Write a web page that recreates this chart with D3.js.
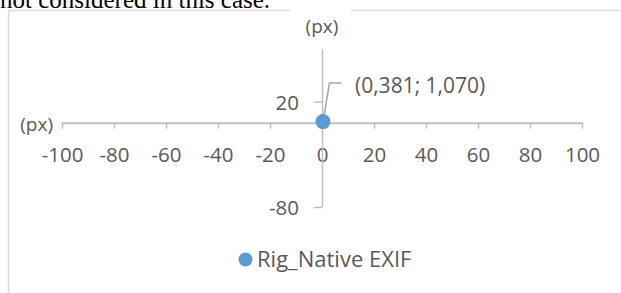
<!DOCTYPE html>
<html>
<head>
<meta charset="utf-8">
<script src="https://cdn.jsdelivr.net/npm/d3@7"></script>
<style>
  html, body { margin: 0; padding: 0; background: #fff; }
  svg { display: block; }
</style>
</head>
<body>
<svg id="chart" width="621" height="293"></svg>
<script>
// ---- data ----
const seriesName = "Rig_Native EXIF";
const xValues = [0.381];
const yValues = [1.070];
const pointLabels = ["(0,381; 1,070)"];
const xTicks = [-100, -80, -60, -40, -20, 0, 20, 40, 60, 80, 100];
const yTicks = [-80, 20];
const xDomain = [-100, 100];
const yDomain = [-80, 70];
const xTitle = "(px)";
const yTitle = "(px)";
const topText = "not considered in this case.";

// ---- drawing ----
const svg = d3.select("#chart");
const font = "'Open Sans', 'Noto Sans', sans-serif";
const textColor = "#595959";
const axisColor = "#BFBFBF";

// page text above the chart frame
svg.append("text")
  .attr("x", 0).attr("y", 8)
  .attr("font-family", "'Liberation Serif', 'Times New Roman', serif")
  .attr("font-size", 25)
  .attr("fill", "#000")
  .text(topText);

// chart frame (left + top border)
const frame = svg.append("g").attr("stroke", "#D9D9D9").attr("stroke-width", 1.5).attr("fill", "none");
frame.append("line").attr("x1", 8.5).attr("x2", 8.5).attr("y1", 10).attr("y2", 293);
frame.append("line").attr("x1", 8).attr("x2", 290).attr("y1", 10.5).attr("y2", 10.5);
frame.append("line").attr("x1", 351).attr("x2", 621).attr("y1", 10.5).attr("y2", 10.5);

const x = d3.scaleLinear().domain(xDomain).range([62, 582]);
const y = d3.scaleLinear().domain(yDomain).range([207, 49]);

// x axis crossing at y = 0
const gx = svg.append("g")
  .attr("transform", `translate(0,${y(0)})`)
  .call(d3.axisBottom(x).tickValues(xTicks).tickSize(6).tickSizeOuter(0).tickPadding(18.5)
        .tickFormat(d => String(d)));
gx.select(".domain").attr("stroke", axisColor).attr("stroke-width", 2);
gx.selectAll(".tick line").attr("stroke", axisColor).attr("stroke-width", 1.5);
gx.selectAll(".tick text").attr("font-family", font).attr("font-size", 20.5).attr("fill", textColor);

// y axis crossing at x = 0
const gy = svg.append("g")
  .attr("transform", `translate(${x(0)},0)`)
  .call(d3.axisLeft(y).tickValues(yTicks).tickSize(8).tickSizeOuter(0).tickPadding(15)
        .tickFormat(d => String(d)));
gy.select(".domain").attr("stroke", axisColor).attr("stroke-width", 1.5);
gy.selectAll(".tick line").attr("stroke", axisColor).attr("stroke-width", 1.5);
gy.selectAll(".tick text").attr("font-family", font).attr("font-size", 20.5).attr("fill", textColor)
  .attr("dy", "0.36em");

// axis titles
svg.append("text")
  .attr("x", 53).attr("y", 131)
  .attr("text-anchor", "end")
  .attr("font-family", font).attr("font-size", 19).attr("fill", textColor)
  .text(xTitle);
svg.append("text")
  .attr("x", x(0)).attr("y", 33)
  .attr("text-anchor", "middle")
  .attr("font-family", font).attr("font-size", 19).attr("fill", textColor)
  .text(yTitle);

// points + leader lines + labels
const pts = xValues.map((v, i) => ({ x: v, y: yValues[i], label: pointLabels[i] }));

svg.selectAll(".leader").data(pts).enter().append("path")
  .attr("class", "leader")
  .attr("fill", "none").attr("stroke", "#A6A6A6").attr("stroke-width", 1.5)
  .attr("d", d => {
    const px = x(d.x), py = y(d.y);
    return `M${px},${py} L${px + 6.5},${py - 38.5} L${px + 18.5},${py - 38.5}`;
  });

svg.selectAll(".pt").data(pts).enter().append("circle")
  .attr("class", "pt")
  .attr("cx", d => x(d.x)).attr("cy", d => y(d.y))
  .attr("r", 7.5)
  .attr("fill", "#5B9BD5");

svg.selectAll(".lbl").data(pts).enter().append("text")
  .attr("class", "lbl")
  .attr("x", d => x(d.x) + 32).attr("y", d => y(d.y) - 28.5)
  .attr("font-family", font).attr("font-size", 21).attr("fill", textColor)
  .text(d => d.label);

// legend
const lg = svg.append("g").attr("transform", "translate(245.5,259.5)");
lg.append("circle").attr("r", 7).attr("fill", "#5B9BD5");
lg.append("text").attr("x", 11.5).attr("y", 7.5)
  .attr("font-family", font).attr("font-size", 22).attr("fill", textColor)
  .text(seriesName);
</script>
</body>
</html>
